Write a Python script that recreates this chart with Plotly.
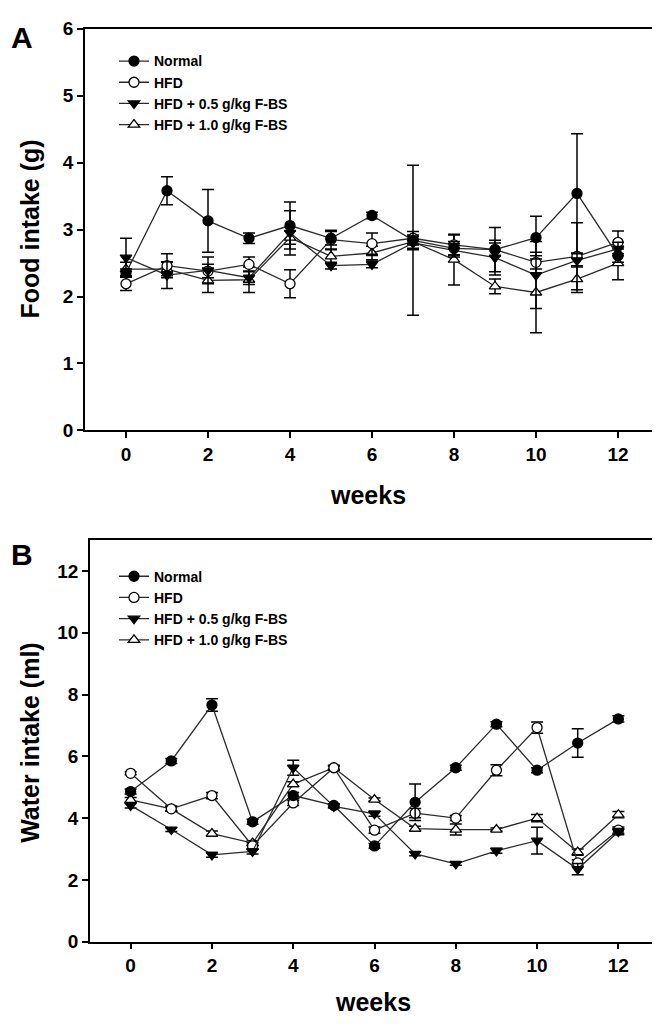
import plotly.graph_objects as go

weeks = list(range(13))

# Panel A - food intake (g), mean and SE
normal_food = [2.35, 3.58, 3.13, 2.87, 3.06, 2.87, 3.21, 2.84, 2.72, 2.70, 2.88, 3.54, 2.61]
normal_food_err = [0.06, 0.21, 0.47, 0.08, 0.35, 0.10, 0.05, 1.12, 0.10, 0.33, 0.32, 0.89, 0.10]
hfd_food = [2.19, 2.46, 2.38, 2.48, 2.19, 2.85, 2.79, 2.87, 2.77, 2.70, 2.51, 2.60, 2.81]
hfd_food_err = [0.10, 0.18, 0.10, 0.11, 0.21, 0.14, 0.16, 0.10, 0.15, 0.10, 0.10, 0.50, 0.17]
low_food = [2.58, 2.32, 2.39, 2.28, 2.95, 2.46, 2.48, 2.80, 2.69, 2.58, 2.32, 2.54, 2.71]
low_food_err = [0.29, 0.20, 0.20, 0.10, 0.33, 0.05, 0.05, 0.10, 0.10, 0.26, 0.50, 0.10, 0.10]
high_food = [2.41, 2.41, 2.24, 2.25, 2.88, 2.60, 2.65, 2.82, 2.55, 2.15, 2.06, 2.26, 2.50]
high_food_err = [0.10, 0.10, 0.18, 0.19, 0.10, 0.10, 0.10, 0.10, 0.38, 0.11, 0.60, 0.20, 0.25]

# Panel B - water intake (ml)
normal_water = [4.86, 5.85, 7.66, 3.88, 4.73, 4.41, 3.10, 4.51, 5.63, 7.04, 5.55, 6.43, 7.21]
normal_water_err = [0.08, 0.08, 0.20, 0.08, 0.10, 0.05, 0.08, 0.59, 0.08, 0.08, 0.08, 0.46, 0.10]
hfd_water = [5.45, 4.30, 4.73, 3.10, 4.49, 5.63, 3.61, 4.16, 4.00, 5.55, 6.93, 2.55, 3.61]
hfd_water_err = [0.05, 0.08, 0.10, 0.10, 0.08, 0.08, 0.10, 0.15, 0.08, 0.18, 0.18, 0.10, 0.10]
low_water = [4.41, 3.63, 2.81, 2.92, 5.63, 4.38, 4.14, 2.84, 2.52, 2.94, 3.27, 2.35, 3.56]
low_water_err = [0.08, 0.06, 0.08, 0.08, 0.24, 0.05, 0.08, 0.06, 0.05, 0.08, 0.43, 0.18, 0.10]
high_water = [4.59, 4.30, 3.50, 3.19, 5.10, 5.63, 4.60, 3.66, 3.63, 3.63, 4.00, 2.90, 4.11]
high_water_err = [0.08, 0.08, 0.08, 0.08, 0.08, 0.05, 0.05, 0.08, 0.18, 0.05, 0.12, 0.10, 0.10]

group_names = ["Normal", "HFD", "HFD + 0.5 g/kg F-BS", "HFD + 1.0 g/kg F-BS"]
symbols = ["circle", "circle", "triangle-down", "triangle-up"]
fills = ["black", "white", "black", "white"]

FONT = "Liberation Sans, Arial, sans-serif"
W, H = 660, 1024

fig = go.Figure()

panels = [
    ("x", "y", "legend", [normal_food, hfd_food, low_food, high_food],
     [normal_food_err, hfd_food_err, low_food_err, high_food_err]),
    ("x2", "y2", "legend2", [normal_water, hfd_water, low_water, high_water],
     [normal_water_err, hfd_water_err, low_water_err, high_water_err]),
]

# draw order: triangles first, normal on top; legend order via legendrank
draw_order = [3, 1, 2, 0]
for xa, ya, lg, series, errs in panels:
    for k in draw_order:
        fig.add_trace(go.Scatter(
            x=weeks, y=series[k], mode="lines+markers", name=group_names[k],
            xaxis=xa, yaxis=ya, legend=lg, legendrank=k + 1,
            line=dict(color="#2a2a2a", width=1.3),
            marker=dict(symbol=symbols[k], size=10, color=fills[k],
                        line=dict(color="black", width=1.3)),
            error_y=dict(type="data", array=errs[k], visible=True,
                         color="black", thickness=1.5, width=6),
        ))

def px_x(p):
    return p / W

def px_y(p):
    return 1 - p / H

axis_common = dict(
    showline=True, linecolor="black", linewidth=1.5, mirror=True,
    ticks="outside", ticklen=6, tickwidth=1.5, tickcolor="black",
    showgrid=False, zeroline=False,
    tickfont=dict(family=FONT, size=19, color="black", weight="bold"),
)

legend_common = dict(
    xref="paper", yref="paper", xanchor="left", yanchor="top",
    bgcolor="rgba(0,0,0,0)", borderwidth=0, tracegroupgap=0, itemwidth=30,
    font=dict(family=FONT, size=14, color="black", weight="bold"),
)

fig.update_layout(
    width=W, height=H,
    margin=dict(l=0, r=0, t=0, b=0),
    plot_bgcolor="white", paper_bgcolor="white",
    xaxis=dict(domain=[px_x(77), px_x(651)], range=[-1, 13], tickvals=list(range(0, 13, 2)),
               anchor="y", **axis_common),
    yaxis=dict(domain=[px_y(421), px_y(11)], range=[0, 6], dtick=1, anchor="x", **axis_common),
    xaxis2=dict(domain=[px_x(82), px_x(651)], range=[-1, 13], tickvals=list(range(0, 13, 2)),
                anchor="y2", **axis_common),
    yaxis2=dict(domain=[px_y(943), px_y(533)], range=[0, 13], tickvals=list(range(0, 13, 2)),
                anchor="x2", **axis_common),
    legend=dict(x=px_x(106), y=px_y(28), **legend_common),
    legend2=dict(x=px_x(106), y=px_y(554), **legend_common),
)

title_font = dict(family=FONT, size=25, color="black", weight="bold")
annotations = [
    dict(text="A", x=px_x(14), y=px_y(20), font=dict(family=FONT, size=30, color="black", weight="bold")),
    dict(text="B", x=px_x(14), y=px_y(548), font=dict(family=FONT, size=30, color="black", weight="bold")),
    dict(text="Food intake (g)", x=px_x(22), y=px_y(216), textangle=-90, font=title_font),
    dict(text="Water intake (ml)", x=px_x(22), y=px_y(740), textangle=-90, font=title_font),
    dict(text="weeks", x=px_x(360), y=px_y(487), font=title_font),
    dict(text="weeks", x=px_x(365), y=px_y(1005), font=title_font),
]
for a in annotations:
    fig.add_annotation(xref="paper", yref="paper", showarrow=False,
                       xanchor="center", yanchor="middle", **a)

fig.write_html("out.html")
